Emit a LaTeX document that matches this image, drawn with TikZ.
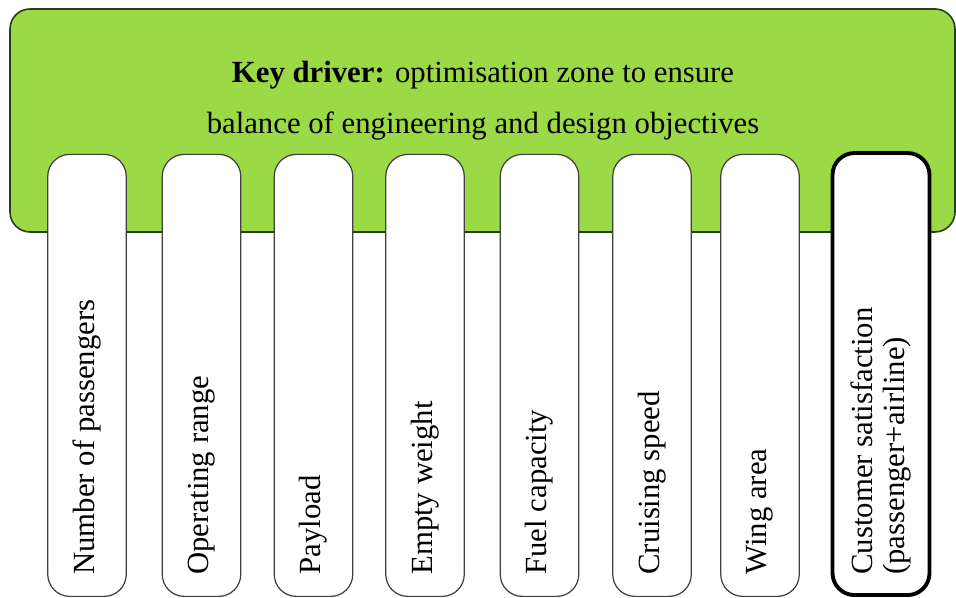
\documentclass[tikz,border=0pt]{standalone}
\usepackage{fontspec}
\setmainfont{Liberation Serif}
\usepackage{tikz}
\usetikzlibrary{positioning}

\definecolor{keygreen}{RGB}{155,217,70}
\definecolor{keyedge}{RGB}{40,62,22}

\begin{document}
\begin{tikzpicture}[
    zone/.style={rectangle, draw=keyedge, fill=keygreen, line width=0.9pt, rounded corners=0.4cm, minimum width=18.9cm, minimum height=4.46cm},
    tooth/.style={rectangle, draw=#1, fill=white, line width=0.7pt, rounded corners=0.44cm, minimum width=1.57cm, minimum height=8.84cm, anchor=south},
    tooth/.default={black!75},
    vlabel/.style={rotate=90, anchor=west, inner sep=0pt, align=left, font=\fontsize{17.5}{18.5}\selectfont},
    ztext/.style={align=center, inner sep=0pt, font=\fontsize{17.5}{29}\selectfont}
]
\useasboundingbox (0,0) rectangle (19.12,11.96);

% === ZONA: KEY DRIVER ===
\node[zone] (zone) at (9.65, 9.55) {};
\node[ztext] (ztxt) at (9.66, 9.94) {\textbf{Key driver:} optimisation zone to ensure\\balance of engineering and design objectives};

% === DIENTES ===
\node[tooth] (pax) at (1.74, 0.02) {};
\node[tooth] (range) at (4.03, 0.02) {};
\node[tooth] (payload) at (6.27, 0.02) {};
\node[tooth] (empty) at (8.50, 0.02) {};
\node[tooth] (fuel) at (10.79, 0.02) {};
\node[tooth] (speed) at (13.04, 0.02) {};
\node[tooth] (wing) at (15.20, 0.02) {};
\node[tooth=black, line width=2.2pt, minimum width=1.94cm] (cust) at (17.62, 0.02) {};

% === ETIQUETAS ===
\node[vlabel] (tpax) at ([yshift=0.44cm] pax.south) {Number of passengers};
\node[vlabel] (trange) at ([yshift=0.44cm] range.south) {Operating range};
\node[vlabel] (tpayload) at ([yshift=0.44cm] payload.south) {Payload};
\node[vlabel] (tempty) at ([yshift=0.44cm] empty.south) {Empty weight};
\node[vlabel] (tfuel) at ([yshift=0.44cm] fuel.south) {Fuel capacity};
\node[vlabel] (tspeed) at ([yshift=0.44cm] speed.south) {Cruising speed};
\node[vlabel] (twing) at ([yshift=0.44cm] wing.south) {Wing area};
\node[vlabel] (tcust) at ([yshift=0.44cm] cust.south) {Customer satisfaction\\(passenger+airline)};

\end{tikzpicture}
\end{document}
